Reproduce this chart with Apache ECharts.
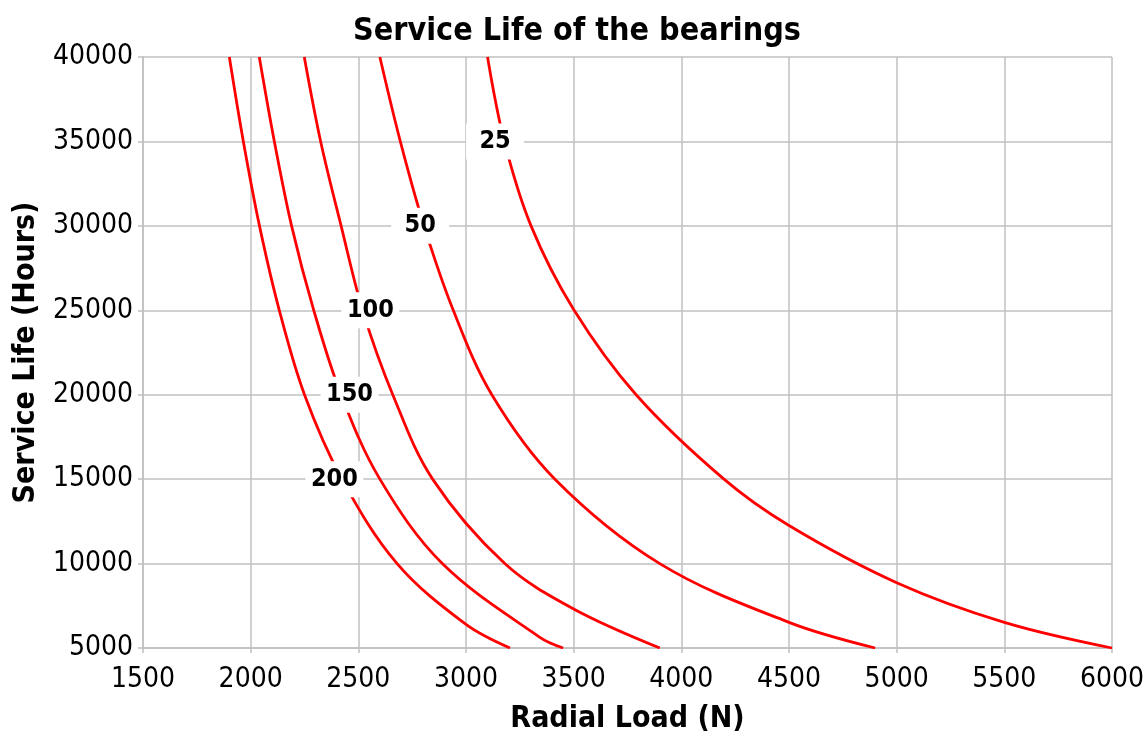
<!DOCTYPE html>
<html>
<head>
<meta charset="utf-8">
<script src="https://cdn.jsdelivr.net/npm/echarts@6/dist/echarts.min.js"></script>
<style>
html,body{margin:0;padding:0;background:#fff;overflow:hidden;}
#chart{width:1148px;height:731px;}
</style>
</head>
<body>
<div id="chart"></div>
<script>
// ---- data ----
const levelNames = ['25', '50', '100', '150', '200'];
const curve25 = [[3100,40000],[3178,35000],[3302,30000],[3500,25050],[3790,20000],[4198,15000],[4500,12255],[5000,8870],[5500,6520],[6000,5000]];
const curve50 = [[2600,40000],[2695,35000],[2805,30000],[2941,25000],[3120,20000],[3413,15000],[3900,10000],[4500,6518],[4900,5000]];
const curve100 = [[2249,40000],[2325,35000],[2420,30000],[2520,25000],[2660,20000],[2845,15000],[3180,10000],[3500,7312],[3900,5000]];
const curve150 = [[2040,40000],[2110,35000],[2190,30000],[2293,25000],[2420,20000],[2600,15000],[2890,10000],[3343,5630],[3451,5000]];
const curve200 = [[1901,40000],[1966,35000],[2041,30000],[2133,25000],[2250,20000],[2424,15000],[2680,10000],[3000,6400],[3204,5000]];
const curves = [curve25, curve50, curve100, curve150, curve200];
const labelPoints = [[3135,35000],[2787,30000],[2556,25000],[2459,20000],[2389,15000]];
const xTicks = [1500,2000,2500,3000,3500,4000,4500,5000,5500,6000];
const yTicks = [5000,10000,15000,20000,25000,30000,35000,40000];

const FONT = 'DejaVu Sans Condensed, DejaVu Sans, sans-serif';
const GRIDC = '#c0c0c0';

const series = curves.map((c, i) => ({
  type: 'line',
  name: levelNames[i],
  data: c,
  smooth: 0.35,
  showSymbol: false,
  lineStyle: {color: '#ff0000', width: 2.8},
  z: 2,
  silent: true
}));
series.push({
  type: 'scatter',
  data: labelPoints.map((p, i) => ({value: p, name: levelNames[i]})),
  symbolSize: 1,
  itemStyle: {color: 'rgba(255,255,255,0)', opacity: 1},
  z: 5,
  silent: true,
  emphasis: {disabled: true},
  label: {
    show: true,
    position: 'inside',
    formatter: p => p.name,
    fontFamily: FONT,
    fontWeight: 'bold',
    fontSize: 25,
    color: '#000000',
    opacity: 1,
    backgroundColor: '#ffffff',
    width: 58,
    align: 'center',
    verticalAlign: 'middle',
    lineHeight: 28,
    padding: [4, 0, 4, 0]
  }
});

const chart = echarts.init(document.getElementById('chart'), null, {renderer: 'canvas'});
chart.setOption({
  animation: false,
  backgroundColor: '#fff',
  title: {
    text: 'Service Life of the bearings',
    left: 348,
    top: 11,
    textStyle: {fontFamily: FONT, fontWeight: 'bold', fontSize: 32, color: '#000'}
  },
  grid: {left: 143, right: 36, top: 57, bottom: 83, outerBoundsMode: 'none', containLabel: false},
  xAxis: {
    type: 'value',
    min: xTicks[0], max: xTicks[xTicks.length - 1], interval: 500,
    name: 'Radial Load (N)',
    nameLocation: 'middle',
    nameGap: 56,
    nameTextStyle: {fontFamily: FONT, fontWeight: 'bold', fontSize: 30, color: '#000'},
    axisLine: {show: true, lineStyle: {color: GRIDC, width: 1.5}},
    axisTick: {show: true, length: 5, lineStyle: {color: GRIDC, width: 1.5}},
    axisLabel: {fontFamily: FONT, fontSize: 28, color: '#000', margin: 18, formatter: v => String(v), hideOverlap: false},
    splitLine: {show: true, lineStyle: {color: GRIDC, width: 1.5}}
  },
  yAxis: {
    type: 'value',
    min: yTicks[0], max: yTicks[yTicks.length - 1], interval: 5000,
    name: 'Service Life (Hours)',
    nameLocation: 'middle',
    nameGap: 102,
    nameTextStyle: {fontFamily: FONT, fontWeight: 'bold', fontSize: 30, color: '#000'},
    axisLine: {show: true, lineStyle: {color: GRIDC, width: 1.5}},
    axisTick: {show: true, length: 5, lineStyle: {color: GRIDC, width: 1.5}},
    axisLabel: {fontFamily: FONT, fontSize: 28, color: '#000', margin: 10, formatter: v => String(v)},
    splitLine: {show: true, lineStyle: {color: GRIDC, width: 1.5}}
  },
  series: series
});
</script>
</body>
</html>
